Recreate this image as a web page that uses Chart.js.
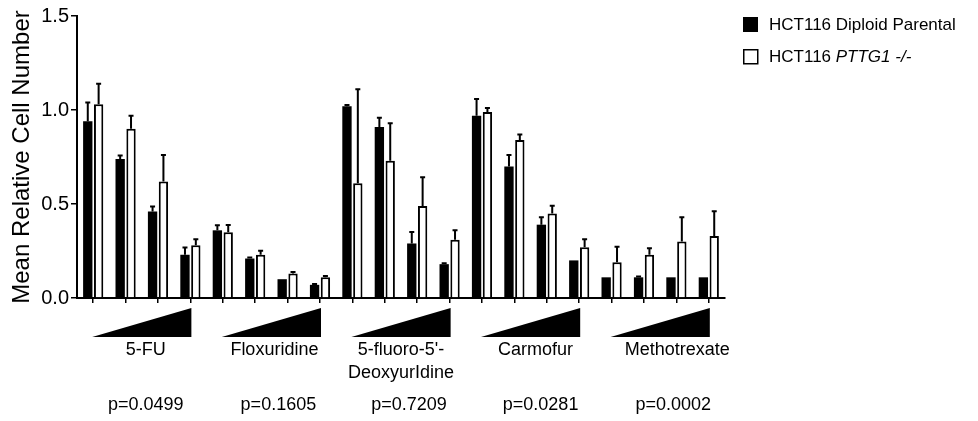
<!DOCTYPE html>
<html>
<head>
<meta charset="utf-8">
<script src="https://cdn.jsdelivr.net/npm/chart.js@4"></script>
<style>
  body{ margin:0; background:#fff; }
</style>
</head>
<body>
<canvas id="chart" width="978" height="421"></canvas>
<script>
//--------------------------------------------------
// DATA
//--------------------------------------------------
const drugs = ["5-FU", "Floxuridine", "5-fluoro-5'-\nDeoxyurIdine", "Carmofur", "Methotrexate"];
const pValues = ["p=0.0499", "p=0.1605", "p=0.7209", "p=0.0281", "p=0.0002"];
const doses = ["1", "2", "3", "4"];
const seriesNames = ["HCT116 Diploid Parental", "HCT116 PTTG1 -/-"];

const parentalMean = [0.94, 0.74, 0.46, 0.23,  0.36, 0.21, 0.10, 0.07,  1.02, 0.91, 0.29, 0.18,  0.97, 0.70, 0.39, 0.20,  0.11, 0.11, 0.11, 0.11];
const parentalErr  = [0.10, 0.018, 0.027, 0.039,  0.027, 0.005, 0, 0.005,  0.007, 0.049, 0.061, 0.005,  0.089, 0.06, 0.04, 0,  0, 0.004, 0, 0];
const pttgMean     = [1.03, 0.90, 0.62, 0.28,  0.35, 0.23, 0.13, 0.11,  0.61, 0.73, 0.49, 0.31,  0.99, 0.84, 0.45, 0.27,  0.19, 0.23, 0.30, 0.33];
const pttgErr      = [0.11, 0.069, 0.14, 0.032,  0.038, 0.021, 0.008, 0.007,  0.50, 0.20, 0.152, 0.051,  0.021, 0.03, 0.041, 0.043,  0.082, 0.034, 0.129, 0.131];

const yTicks = [0, 0.5, 1.0, 1.5];

// small nudges so the drug names / p values sit where the original put them
const labelShift = [4, 3, 0, 5, 17];
const pShift = [4, 7, 8, 10, 13];

const FONT = "'Liberation Sans', Arial, sans-serif";

const labels = [];
drugs.forEach(d => doses.forEach(n => labels.push(d + " " + n)));

//--------------------------------------------------
// PLUGINS
//--------------------------------------------------
const errorBars = {
  id: "errorBars",
  afterDatasetsDraw(chart){
    const ctx = chart.ctx;
    const y = chart.scales.y;
    const errs = [parentalErr, pttgErr];
    ctx.save();
    ctx.strokeStyle = "#000";
    ctx.lineWidth = 2;
    chart.data.datasets.forEach((ds, di) => {
      const meta = chart.getDatasetMeta(di);
      meta.data.forEach((bar, i) => {
        const e = errs[di][i];
        if(!e) return;
        const top = y.getPixelForValue(ds.data[i] + e);
        ctx.beginPath();
        ctx.moveTo(bar.x, bar.y);
        ctx.lineTo(bar.x, top);
        ctx.moveTo(bar.x - 2.5, top);
        ctx.lineTo(bar.x + 2.5, top);
        ctx.stroke();
      });
    });
    ctx.restore();
  }
};

const extras = {
  id: "extras",
  afterDraw(chart){
    const ctx = chart.ctx;
    const x = chart.scales.x;
    const bottom = chart.chartArea.bottom;
    ctx.save();

    // dose wedges + drug names + p values
    drugs.forEach((d, g) => {
      const x1 = x.getPixelForTick(g * 4);
      const x2 = x.getPixelForTick(g * 4 + 3);
      ctx.fillStyle = "#000";
      ctx.beginPath();
      ctx.moveTo(x1 - 1, bottom + 39);
      ctx.lineTo(x2 + 1, bottom + 10);
      ctx.lineTo(x2 + 1, bottom + 39);
      ctx.closePath();
      ctx.fill();

      const mid = (x1 + x2) / 2;
      ctx.font = "18px " + FONT;
      ctx.textAlign = "center";
      ctx.textBaseline = "middle";
      d.split("\n").forEach((line, k) => {
        ctx.fillText(line, mid + labelShift[g], bottom + 52 + k * 23);
      });
      ctx.fillText(pValues[g], mid + pShift[g], bottom + 107);
    });

    // legend
    ctx.fillStyle = "#000";
    ctx.fillRect(743, 17, 15, 15);
    ctx.strokeStyle = "#000";
    ctx.lineWidth = 1.5;
    ctx.strokeRect(743.75, 49.75, 14, 14);

    ctx.textAlign = "left";
    ctx.textBaseline = "middle";
    ctx.font = "17px " + FONT;
    ctx.fillText(seriesNames[0], 769, 25);
    const first = "HCT116 ";
    ctx.fillText(first, 769, 57);
    const w = ctx.measureText(first).width;
    ctx.font = "italic 17px " + FONT;
    ctx.fillText(seriesNames[1].slice(first.length), 769 + w, 57);

    ctx.restore();
  }
};

//--------------------------------------------------
// CHART
//--------------------------------------------------
new Chart(document.getElementById("chart"), {
  type: "bar",
  data: {
    labels,
    datasets: [
      { label: seriesNames[0], data: parentalMean, backgroundColor: "#000", borderWidth: 0,
        categoryPercentage: 0.67, barPercentage: 0.86 },
      { label: seriesNames[1], data: pttgMean, backgroundColor: "#fff", borderColor: "#000", borderWidth: 2,
        borderSkipped: "bottom", categoryPercentage: 0.67, barPercentage: 0.86 }
    ]
  },
  options: {
    responsive: false,
    animation: false,
    layout: { padding: { top: 16, right: 253, bottom: 0, left: 0 } },
    plugins: { legend: { display: false }, tooltip: { enabled: false } },
    scales: {
      x: {
        grid: { display: true, drawOnChartArea: false, offset: false, tickLength: 5, color: "#000", lineWidth: 1.5 },
        border: { color: "#000", width: 2 },
        ticks: { display: false, autoSkip: false },
        afterFit(s){ s.height = 123; }
      },
      y: {
        min: 0, max: 1.5,
        afterBuildTicks(s){ s.ticks = yTicks.map(v => ({ value: v })); },
        grid: { display: true, drawOnChartArea: false, tickLength: 6, color: "#000", lineWidth: 1.5 },
        border: { color: "#000", width: 2 },
        ticks: { color: "#000", padding: 2, font: { family: FONT, size: 20 },
                 callback: v => Number(v).toFixed(1) },
        title: { display: true, text: "Mean Relative Cell Number", color: "#000",
                 font: { family: FONT, size: 24 }, padding: { top: 8, bottom: 0 } },
        afterFit(s){ s.width = 77; }
      }
    }
  },
  plugins: [errorBars, extras]
});
</script>
</body>
</html>
